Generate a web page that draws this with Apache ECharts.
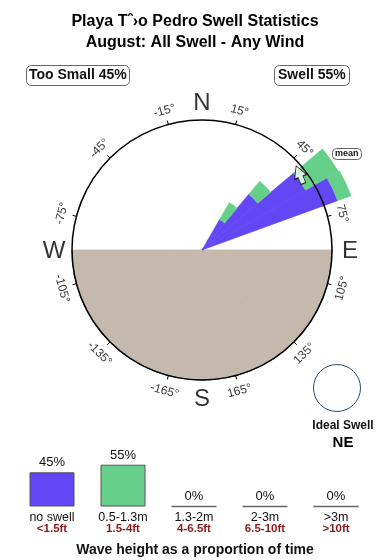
<!DOCTYPE html>
<html><head><meta charset="utf-8">
<script src="https://cdn.jsdelivr.net/npm/echarts@6/dist/echarts.min.js"></script>
<style>html,body{margin:0;padding:0;background:#fff}#c{width:390px;height:560px}</style>
</head><body><div id="c"></div>
<script>
// ---- data ----
const binStarts = [30, 40, 50, 60];          // direction bins (deg, 10° wide)
const roseSmall = [27, 56, 92, 111];         // too small part (circle = 100)
const roseSwell = [15, 13, 29, 11];          // swell part
const landBins = [90, 270];                  // land sector (compass deg)
const tickDegrees = [15, 45, 75, 105, 135, 165, -165, -135, -105, -75, -45, -15];
const compassLetters = ['N', 'E', 'S', 'W'];
const compassAngles = [0, 90, 180, 270];
const meanDirection = 52;
const heightCats = ['no swell', '0.5-1.3m', '1.3-2m', '2-3m', '>3m'];
const heightFeet = ['<1.5ft', '1.5-4ft', '4-6.5ft', '6.5-10ft', '>10ft'];
const heightPct = [45, 55, 0, 0, 0];

const BLUE = '#6347f5', GREEN = '#66d08a', LAND = '#c5b9ad';
const FONT = '"Liberation Sans", Arial, Helvetica, sans-serif';

const NB = 36;
const binNames = Array.from({length: NB}, (_, i) => String(i * 10));
const blueArr = Array(NB).fill(0), greenArr = Array(NB).fill(0), landArr = Array(NB).fill(0);
binStarts.forEach((a, k) => { blueArr[a / 10] = roseSmall[k]; greenArr[a / 10] = roseSwell[k]; });
for (let i = landBins[0] / 10; i < landBins[1] / 10; i++) landArr[i] = 100;

function tanRot(d) {
  let r = d;
  if (r > 90) r -= 180;
  if (r < -90) r += 180;
  return -r;
}
const tickLabelData = tickDegrees.map(d => ({
  value: [145, (d + 360) % 360],
  label: {formatter: d + '°', rotate: tanRot(d)}
}));
const letterData = compassLetters.map((t, i) => ({value: [148, compassAngles[i]], label: {formatter: t}}));

const colors = [BLUE, GREEN];
const barData = heightPct.map((v, i) => ({
  value: v,
  itemStyle: v > 0 ? {color: colors[i], borderColor: '#555', borderWidth: 1}
                   : {color: 'rgba(0,0,0,0)', borderColor: '#666', borderWidth: 1.5}
}));

const HIDE = {show: false};
const chart = echarts.init(document.getElementById('c'), null, {renderer: 'canvas'});
chart.setOption({
  animation: false,
  textStyle: {fontFamily: FONT},
  title: [
    {text: 'Playa Tˆ›o Pedro Swell Statistics\nAugust: All Swell - Any Wind', left: 'center', top: 6,
     textStyle: {fontSize: 16, fontWeight: 'bold', lineHeight: 21, color: '#000', fontFamily: FONT}},
    {text: 'Too Small 45%', left: 26, top: 65, padding: [3, 3, 3, 3], borderColor: '#666', borderWidth: 1, borderRadius: 5,
     textStyle: {fontSize: 14, fontWeight: 'bold', color: '#111', fontFamily: FONT, lineHeight: 15}},
    {text: 'Swell 55%', left: 274, top: 65, padding: [3, 4, 3, 4], borderColor: '#666', borderWidth: 1, borderRadius: 5,
     textStyle: {fontSize: 14, fontWeight: 'bold', color: '#111', fontFamily: FONT, lineHeight: 15}},
    {text: 'mean', left: 332, top: 148, padding: [1, 3, 1, 3], borderColor: '#666', borderWidth: 1, borderRadius: 4,
     textStyle: {fontSize: 9, fontWeight: 'bold', color: '#111', fontFamily: FONT, lineHeight: 10}},
    {text: 'Ideal Swell', left: 338, top: 415, textAlign: 'center',
     textStyle: {fontSize: 12, fontWeight: 'bold', color: '#111', fontFamily: FONT}},
    {text: 'NE', left: 338, top: 430, textAlign: 'center',
     textStyle: {fontSize: 15, fontWeight: 'bold', color: '#000', fontFamily: FONT}},
    {text: 'Wave height as a proportion of time', left: 'center', top: 538,
     textStyle: {fontSize: 14, fontWeight: 'bold', color: '#111', fontFamily: FONT}}
  ],
  graphic: [
    {type: 'circle', shape: {cx: 337, cy: 388, r: 23.5}, style: {fill: '#fff', stroke: '#2c4a6b', lineWidth: 1}}
  ],
  polar: [
    {center: [202, 250], radius: 130},
    {center: [202, 250], radius: 169},
    {center: [202, 251], radius: 150}
  ],
  angleAxis: [
    {polarIndex: 0, type: 'value', min: 0, max: 360, interval: 30, startAngle: 75, clockwise: true, z: 10,
     axisLine: {show: true, lineStyle: {color: '#000', width: 1.5}},
     axisTick: {show: true, inside: false, length: 4, lineStyle: {color: '#000', width: 1}},
     axisLabel: HIDE, splitLine: HIDE},
    {polarIndex: 1, type: 'category', data: binNames, startAngle: 90, clockwise: true, boundaryGap: true, show: false,
     axisLine: HIDE, axisTick: HIDE, axisLabel: HIDE, splitLine: HIDE},
    {polarIndex: 2, type: 'value', min: 0, max: 360, startAngle: 90, clockwise: true, show: false,
     axisLine: HIDE, axisTick: HIDE, axisLabel: HIDE, splitLine: HIDE}
  ],
  radiusAxis: [
    {polarIndex: 0, type: 'value', min: 0, max: 130, show: false, axisLine: HIDE, axisTick: HIDE, axisLabel: HIDE, splitLine: HIDE},
    {polarIndex: 1, type: 'value', min: 0, max: 130, show: false, axisLine: HIDE, axisTick: HIDE, axisLabel: HIDE, splitLine: HIDE},
    {polarIndex: 2, type: 'value', min: 0, max: 150, show: false, axisLine: HIDE, axisTick: HIDE, axisLabel: HIDE, splitLine: HIDE}
  ],
  grid: [{left: 16.5, right: 18.5, top: 430.5, bottom: 53.5}],
  xAxis: [{gridIndex: 0, type: 'category', data: heightCats,
    axisLine: HIDE, axisTick: HIDE,
    axisLabel: {margin: 6, interval: 0, formatter: (v, i) => '{a|' + v + '}\n{b|' + heightFeet[i] + '}',
      rich: {a: {fontSize: 12.5, color: '#111', lineHeight: 11, fontFamily: FONT},
             b: {fontSize: 11.5, color: '#8a1a1a', fontWeight: 'bold', lineHeight: 11, fontFamily: FONT}}}}],
  yAxis: [{gridIndex: 0, type: 'value', min: 0, max: 100, show: false}],
  series: [
    {type: 'bar', coordinateSystem: 'polar', polarIndex: 1, stack: 'rose', barCategoryGap: '0%', data: landArr,
     itemStyle: {color: LAND, borderColor: LAND, borderWidth: 0.8}, z: 1, silent: true},
    {type: 'bar', coordinateSystem: 'polar', polarIndex: 1, stack: 'rose', barCategoryGap: '0%', data: blueArr,
     itemStyle: {color: BLUE, borderColor: BLUE, borderWidth: 0.6}, z: 2},
    {type: 'bar', coordinateSystem: 'polar', polarIndex: 1, stack: 'rose', barCategoryGap: '0%', data: greenArr,
     itemStyle: {color: GREEN, borderColor: GREEN, borderWidth: 0.6}, z: 2},
    {type: 'scatter', coordinateSystem: 'polar', polarIndex: 2, clip: false, symbolSize: 1, z: 12,
     itemStyle: {color: 'rgba(0,0,0,0)'}, data: tickLabelData,
     label: {show: true, position: 'inside', fontSize: 12, color: '#000', fontFamily: FONT}},
    {type: 'scatter', coordinateSystem: 'polar', polarIndex: 2, clip: false, symbolSize: 1, z: 12,
     itemStyle: {color: 'rgba(0,0,0,0)'}, data: letterData,
     label: {show: true, position: 'inside', fontSize: 24, color: '#000', fontFamily: FONT}},
    {type: 'scatter', coordinateSystem: 'polar', polarIndex: 2, clip: false, z: 13,
     symbol: 'path://M5,0 L10,10 L7,10 L7,16 L3,16 L3,10 L0,10 Z', symbolSize: [13, 19], symbolRotate: 22,
     itemStyle: {color: '#fff', borderColor: '#000', borderWidth: 1},
     data: [[124, meanDirection]]},
    {type: 'bar', xAxisIndex: 0, yAxisIndex: 0, barWidth: 45, data: barData,
     label: {show: true, position: 'top', distance: 3, formatter: '{c}%', fontSize: 13, color: '#111', fontFamily: FONT}}
  ]
});
</script></body></html>
